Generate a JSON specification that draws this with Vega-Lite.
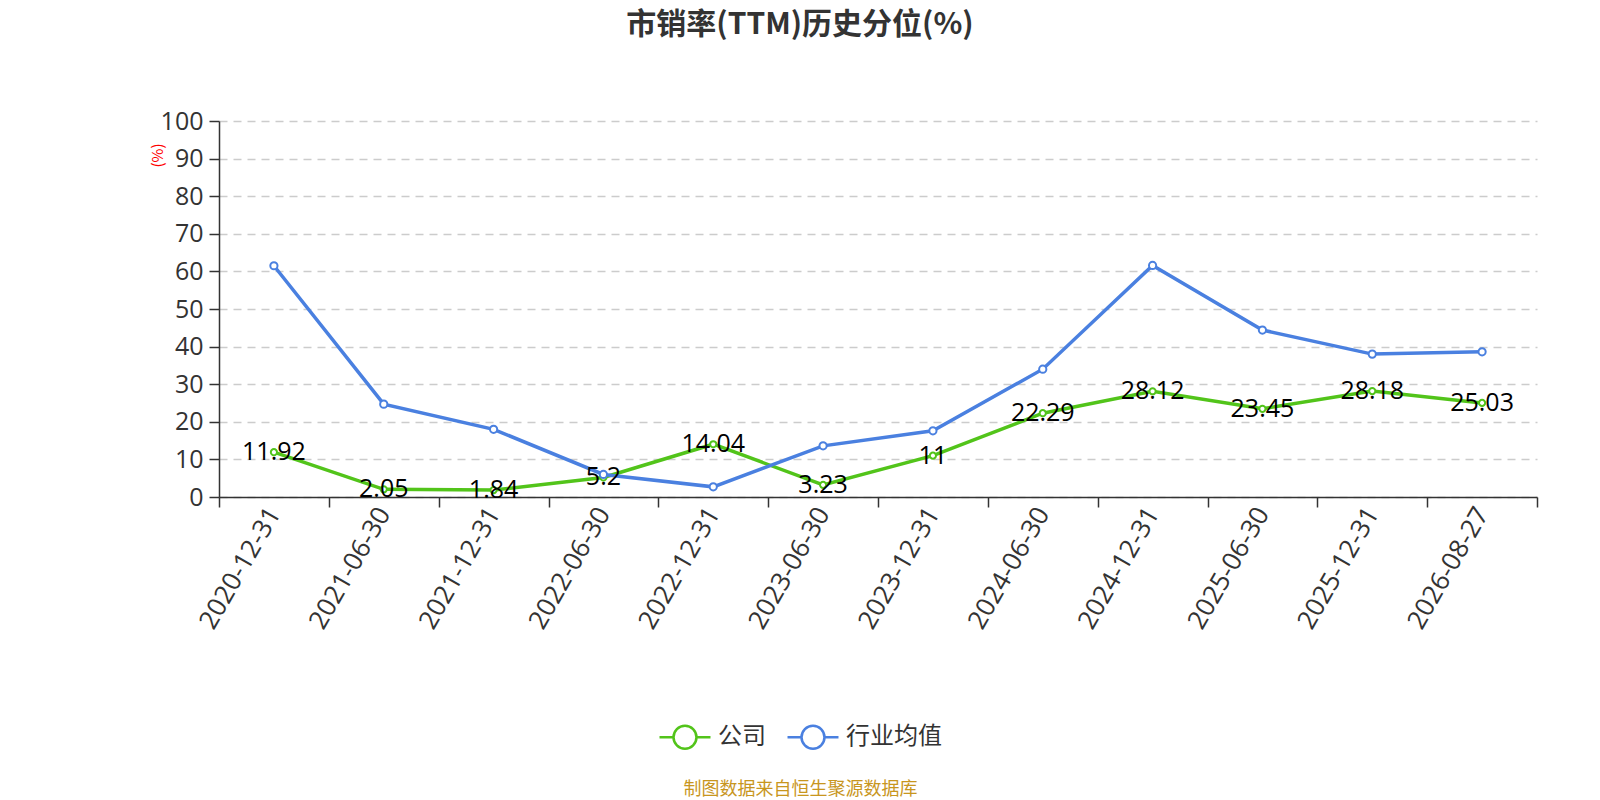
{
  "$schema": "https://vega.github.io/schema/vega-lite/v6.json",
  "width": 1318,
  "height": 376,
  "autosize": {"type": "none"},
  "padding": {"left": 219, "top": 121, "right": 63, "bottom": 303},
  "background": "white",
  "title": {
    "text": "市销率(TTM)历史分位(%)",
    "fontSize": 30,
    "fontWeight": "bold",
    "color": "#333333",
    "font": "Noto Sans CJK SC",
    "anchor": "middle",
    "frame": "group",
    "dx": -78,
    "baseline": "middle",
    "offset": 54
  },
  "config": {
    "font": "Noto Sans CJK SC",
    "view": {"stroke": null}
  },
  "data": {
    "values": [
      {"date": "2020-12-31", "series": "公司", "value": 11.92},
      {"date": "2021-06-30", "series": "公司", "value": 2.05},
      {"date": "2021-12-31", "series": "公司", "value": 1.84},
      {"date": "2022-06-30", "series": "公司", "value": 5.2},
      {"date": "2022-12-31", "series": "公司", "value": 14.04},
      {"date": "2023-06-30", "series": "公司", "value": 3.23},
      {"date": "2023-12-31", "series": "公司", "value": 11},
      {"date": "2024-06-30", "series": "公司", "value": 22.29},
      {"date": "2024-12-31", "series": "公司", "value": 28.12},
      {"date": "2025-06-30", "series": "公司", "value": 23.45},
      {"date": "2025-12-31", "series": "公司", "value": 28.18},
      {"date": "2026-08-27", "series": "公司", "value": 25.03},
      {"date": "2020-12-31", "series": "行业均值", "value": 61.5},
      {"date": "2021-06-30", "series": "行业均值", "value": 24.7},
      {"date": "2021-12-31", "series": "行业均值", "value": 18.0},
      {"date": "2022-06-30", "series": "行业均值", "value": 6.0},
      {"date": "2022-12-31", "series": "行业均值", "value": 2.7},
      {"date": "2023-06-30", "series": "行业均值", "value": 13.6},
      {"date": "2023-12-31", "series": "行业均值", "value": 17.6},
      {"date": "2024-06-30", "series": "行业均值", "value": 34.0},
      {"date": "2024-12-31", "series": "行业均值", "value": 61.6},
      {"date": "2025-06-30", "series": "行业均值", "value": 44.4},
      {"date": "2025-12-31", "series": "行业均值", "value": 38.0},
      {"date": "2026-08-27", "series": "行业均值", "value": 38.6}
    ]
  },
  "encoding": {
    "x": {
      "field": "date",
      "type": "ordinal",
      "sort": null,
      "scale": {"type": "band", "paddingInner": 0, "paddingOuter": 0},
      "axis": {
        "title": "制图数据来自恒生聚源数据库",
        "titleColor": "#C8961E",
        "titleFontSize": 18,
        "titleFontWeight": "normal",
        "titleX": 581,
        "titleY": 292,
        "titleAlign": "center",
        "titleBaseline": "middle",
        "labelAngle": -60,
        "labelAlign": "right",
        "labelBaseline": "middle",
        "labelFontSize": 26,
        "labelColor": "#333333",
        "labelPadding": 2,
        "labelFont": "Open Sans",
        "tickBand": "extent",
        "tickSize": 10,
        "tickColor": "#333333",
        "tickWidth": 1.5,
        "domainColor": "#333333",
        "domainWidth": 1.5,
        "grid": false
      }
    },
    "y": {
      "field": "value",
      "type": "quantitative",
      "scale": {"domain": [0, 100], "nice": false},
      "axis": {
        "values": [0, 10, 20, 30, 40, 50, 60, 70, 80, 90, 100],
        "title": "(%)",
        "titleColor": "#FF0000",
        "titleFontSize": 15,
        "titleFontWeight": "normal",
        "titleAngle": -90,
        "titleX": -62,
        "titleY": 34,
        "titleAlign": "center",
        "titleBaseline": "middle",
        "labelFontSize": 25,
        "labelColor": "#333333",
        "labelFont": "Open Sans",
        "labelPadding": 6,
        "tickSize": 10,
        "tickColor": "#333333",
        "tickWidth": 1.5,
        "domainColor": "#333333",
        "domainWidth": 1.5,
        "grid": true,
        "gridColor": "#CCCCCC",
        "gridDash": [8, 6],
        "gridWidth": 1.5
      }
    },
    "color": {
      "field": "series",
      "type": "nominal",
      "scale": {"domain": ["公司", "行业均值"], "range": ["#52C41A", "#4A80E0"]},
      "legend": {
        "title": null,
        "orient": "none",
        "direction": "horizontal",
        "legendX": 439,
        "legendY": 589,
        "labelFontSize": 24,
        "labelColor": "#333333",
        "labelOffset": 6,
        "columnPadding": 16,
        "symbolSize": 2600,
        "symbolType": "M-1,0H-0.45M0.45,0H1M0.45,0A0.45,0.45 0 1,1 -0.45,0A0.45,0.45 0 1,1 0.45,0",
        "symbolStrokeWidth": 2.5,
        "symbolFillColor": "white",
        "encoding": {
          "symbols": {
            "update": {
              "shape": {"value": "M-1,0H-0.45M0.45,0H1M0.45,0A0.45,0.45 0 1,1 -0.45,0A0.45,0.45 0 1,1 0.45,0"},
              "size": {"value": 2600},
              "fill": {"value": "white"},
              "fillOpacity": {"value": 1},
              "strokeWidth": {"value": 2.5},
              "opacity": {"value": 1}
            }
          }
        }
      }
    }
  },
  "layer": [
    {
      "mark": {"type": "line", "strokeWidth": 3.5}
    },
    {
      "mark": {"type": "point", "filled": false, "fill": "white", "fillOpacity": 1, "strokeWidth": 2, "opacity": 1},
      "encoding": {
        "size": {"condition": {"test": "datum.series === '公司'", "value": 38}, "value": 52}
      }
    },
    {
      "transform": [{"filter": "datum.series === '公司'"}],
      "mark": {"type": "text", "fontSize": 25, "color": "#000000", "align": "center", "baseline": "middle", "font": "Open Sans"},
      "encoding": {
        "text": {"field": "value", "type": "nominal"},
        "color": {"value": "#000000"}
      }
    }
  ]
}
